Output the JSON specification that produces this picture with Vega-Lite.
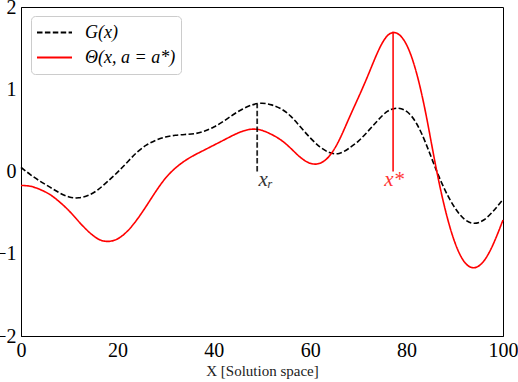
{
  "$schema": "https://vega.github.io/schema/vega-lite/v6.json",
  "width": 482,
  "height": 329,
  "autosize": {"type": "none"},
  "padding": {"left": 21, "top": 7, "right": 15, "bottom": 46},
  "background": "white",
  "config": {
    "view": {"stroke": "#000", "strokeWidth": 1},
    "font": "Liberation Serif",
    "axis": {
      "grid": false,
      "domainColor": "#000",
      "ticks": false,
      "labelFlush": false,
      "labelFont": "Liberation Serif",
      "labelFontSize": 20,
      "labelColor": "#000",
      "titleFont": "Liberation Serif",
      "titleFontSize": 15,
      "titleFontWeight": "normal",
      "titleColor": "#222"
    }
  },
  "datasets": {
    "curves": [
      {"series": "G", "x": 0, "y": 0.05},
      {"series": "G", "x": 2, "y": -0.04},
      {"series": "G", "x": 4, "y": -0.12},
      {"series": "G", "x": 6, "y": -0.19},
      {"series": "G", "x": 8, "y": -0.26},
      {"series": "G", "x": 10, "y": -0.31},
      {"series": "G", "x": 12, "y": -0.32},
      {"series": "G", "x": 14, "y": -0.29},
      {"series": "G", "x": 16, "y": -0.22},
      {"series": "G", "x": 18, "y": -0.12},
      {"series": "G", "x": 20, "y": -0.01},
      {"series": "G", "x": 22, "y": 0.11},
      {"series": "G", "x": 24, "y": 0.23},
      {"series": "G", "x": 26, "y": 0.32},
      {"series": "G", "x": 28, "y": 0.38},
      {"series": "G", "x": 30, "y": 0.42},
      {"series": "G", "x": 32, "y": 0.44},
      {"series": "G", "x": 34, "y": 0.45},
      {"series": "G", "x": 36, "y": 0.46},
      {"series": "G", "x": 38, "y": 0.49},
      {"series": "G", "x": 40, "y": 0.54},
      {"series": "G", "x": 42, "y": 0.61},
      {"series": "G", "x": 44, "y": 0.69},
      {"series": "G", "x": 46, "y": 0.76},
      {"series": "G", "x": 48, "y": 0.81},
      {"series": "G", "x": 50, "y": 0.83},
      {"series": "G", "x": 52, "y": 0.81},
      {"series": "G", "x": 54, "y": 0.76},
      {"series": "G", "x": 56, "y": 0.67},
      {"series": "G", "x": 58, "y": 0.54},
      {"series": "G", "x": 60, "y": 0.41},
      {"series": "G", "x": 62, "y": 0.3},
      {"series": "G", "x": 64, "y": 0.23},
      {"series": "G", "x": 66, "y": 0.22},
      {"series": "G", "x": 68, "y": 0.28},
      {"series": "G", "x": 70, "y": 0.37},
      {"series": "G", "x": 72, "y": 0.49},
      {"series": "G", "x": 74, "y": 0.62},
      {"series": "G", "x": 76, "y": 0.73},
      {"series": "G", "x": 78, "y": 0.77},
      {"series": "G", "x": 80, "y": 0.73},
      {"series": "G", "x": 82, "y": 0.59},
      {"series": "G", "x": 84, "y": 0.34},
      {"series": "G", "x": 86, "y": 0.04},
      {"series": "G", "x": 88, "y": -0.23},
      {"series": "G", "x": 90, "y": -0.44},
      {"series": "G", "x": 92, "y": -0.58},
      {"series": "G", "x": 94, "y": -0.63},
      {"series": "G", "x": 96, "y": -0.59},
      {"series": "G", "x": 98, "y": -0.48},
      {"series": "G", "x": 100, "y": -0.34},
      {"series": "T", "x": 0, "y": -0.17},
      {"series": "T", "x": 2, "y": -0.18},
      {"series": "T", "x": 4, "y": -0.22},
      {"series": "T", "x": 6, "y": -0.28},
      {"series": "T", "x": 8, "y": -0.37},
      {"series": "T", "x": 10, "y": -0.48},
      {"series": "T", "x": 12, "y": -0.61},
      {"series": "T", "x": 14, "y": -0.73},
      {"series": "T", "x": 16, "y": -0.82},
      {"series": "T", "x": 18, "y": -0.85},
      {"series": "T", "x": 20, "y": -0.82},
      {"series": "T", "x": 22, "y": -0.73},
      {"series": "T", "x": 24, "y": -0.59},
      {"series": "T", "x": 26, "y": -0.42},
      {"series": "T", "x": 28, "y": -0.24},
      {"series": "T", "x": 30, "y": -0.08},
      {"series": "T", "x": 32, "y": 0.04},
      {"series": "T", "x": 34, "y": 0.13},
      {"series": "T", "x": 36, "y": 0.2},
      {"series": "T", "x": 38, "y": 0.26},
      {"series": "T", "x": 40, "y": 0.32},
      {"series": "T", "x": 42, "y": 0.38},
      {"series": "T", "x": 44, "y": 0.44},
      {"series": "T", "x": 46, "y": 0.49},
      {"series": "T", "x": 48, "y": 0.515},
      {"series": "T", "x": 50, "y": 0.5},
      {"series": "T", "x": 52, "y": 0.45},
      {"series": "T", "x": 54, "y": 0.38},
      {"series": "T", "x": 56, "y": 0.28},
      {"series": "T", "x": 58, "y": 0.17},
      {"series": "T", "x": 60, "y": 0.1},
      {"series": "T", "x": 62, "y": 0.1},
      {"series": "T", "x": 64, "y": 0.19},
      {"series": "T", "x": 66, "y": 0.38},
      {"series": "T", "x": 68, "y": 0.64},
      {"series": "T", "x": 70, "y": 0.9},
      {"series": "T", "x": 72, "y": 1.17},
      {"series": "T", "x": 74, "y": 1.45},
      {"series": "T", "x": 76, "y": 1.65},
      {"series": "T", "x": 78, "y": 1.68},
      {"series": "T", "x": 80, "y": 1.54},
      {"series": "T", "x": 82, "y": 1.21},
      {"series": "T", "x": 84, "y": 0.7},
      {"series": "T", "x": 86, "y": 0.08},
      {"series": "T", "x": 88, "y": -0.46},
      {"series": "T", "x": 90, "y": -0.86},
      {"series": "T", "x": 92, "y": -1.1},
      {"series": "T", "x": 94, "y": -1.17},
      {"series": "T", "x": 96, "y": -1.09},
      {"series": "T", "x": 98, "y": -0.88},
      {"series": "T", "x": 100, "y": -0.59}
    ],
    "marks": [
      {"series": "G", "x": 49, "y0": 0, "y1": 0.82, "lx": 50.8, "ly": -0.1, "label": "xᵣ"},
      {"series": "T", "x": 77.2, "y0": 0, "y1": 1.7, "lx": 77.4, "ly": -0.1, "label": "x*"}
    ]
  },
  "layer": [
    {
      "mark": {"type": "rule", "color": "#000", "strokeWidth": 2},
      "encoding": {"y": {"datum": 0, "type": "quantitative", "scale": {"domain": [-2, 2], "nice": false}}}
    },
    {
      "data": {"name": "curves"},
      "mark": {"type": "line", "strokeWidth": 1.6, "interpolate": "natural"},
      "encoding": {
        "x": {
          "field": "x", "type": "quantitative",
          "scale": {"domain": [0, 100], "nice": false, "zero": false},
          "axis": {"values": [0, 20, 40, 60, 80, 100], "title": "X [Solution space]", "titlePadding": 3, "labelPadding": 4}
        },
        "y": {
          "field": "y", "type": "quantitative",
          "scale": {"domain": [-2, 2], "nice": false},
          "axis": {"values": [-2, -1, 0, 1, 2], "title": null, "labelPadding": 5, "format": "d"}
        },
        "color": {
          "field": "series", "type": "nominal",
          "scale": {"domain": ["G", "T"], "range": ["#000000", "#ff0000"]},
          "legend": {
            "title": null,
            "orient": "none",
            "legendX": 10,
            "legendY": 9,
            "symbolType": "stroke",
            "symbolSize": 1225,
            "symbolStrokeWidth": 1.8,
            "clipHeight": 23,
            "rowPadding": 2,
            "labelOffset": 12,
            "labelFont": "Liberation Serif",
            "labelFontSize": 18,
            "labelFontStyle": "italic",
            "labelColor": "#000",
            "padding": 5,
            "fillColor": "white",
            "strokeColor": "#cccccc",
            "cornerRadius": 4,
            "labelExpr": "datum.value == 'G' ? 'G(x)' : 'Θ(x, a = a*)'"
          }
        },
        "strokeDash": {
          "field": "series", "type": "nominal",
          "scale": {"domain": ["G", "T"], "range": [[5.5, 2.4], [1, 0]]},
          "legend": null
        }
      }
    },
    {
      "data": {"name": "marks"},
      "mark": {"type": "rule", "strokeWidth": 1.8, "opacity": 0.85},
      "encoding": {
        "x": {"field": "x", "type": "quantitative"},
        "y": {"field": "y0", "type": "quantitative"},
        "y2": {"field": "y1"},
        "color": {"field": "series", "type": "nominal", "legend": null},
        "strokeDash": {"field": "series", "type": "nominal", "legend": null}
      }
    },
    {
      "data": {"name": "marks"},
      "mark": {"type": "text", "font": "Liberation Serif", "fontSize": 21, "fontStyle": "italic", "baseline": "middle", "align": "center", "opacity": 0.8},
      "encoding": {
        "x": {"field": "lx", "type": "quantitative"},
        "y": {"field": "ly", "type": "quantitative"},
        "text": {"field": "label"},
        "color": {"field": "series", "type": "nominal", "legend": null}
      }
    }
  ]
}
